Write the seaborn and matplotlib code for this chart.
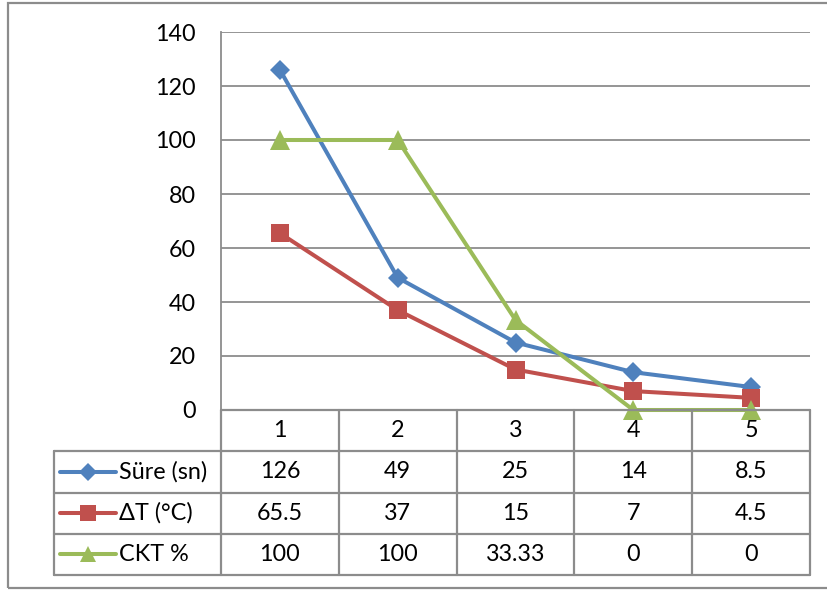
import matplotlib
matplotlib.use("Agg")
import matplotlib.pyplot as plt
from matplotlib.lines import Line2D
from matplotlib.patches import Rectangle
import seaborn as sns
import pandas as pd

categories = [1, 2, 3, 4, 5]
series_names = ["Süre (sn)", "ΔT (°C)", "CKT %"]
sure = [126, 49, 25, 14, 8.5]
delta_t = [65.5, 37, 15, 7, 4.5]
ckt = [100, 100, 33.33, 0, 0]
table_text = [
    ["126", "49", "25", "14", "8.5"],
    ["65.5", "37", "15", "7", "4.5"],
    ["100", "100", "33.33", "0", "0"],
]
y_ticks = [0, 20, 40, 60, 80, 100, 120, 140]

colors = ["#4F81BD", "#C0504D", "#9BBB59"]
markers = ["D", "s", "^"]
msizes = [10, 13, 14]
values = [sure, delta_t, ckt]

sns.set_theme(style="white")
plt.rcParams["font.family"] = ["Lato", "DejaVu Sans"]
FS = 16.8
GRID = "#8C8C8C"

W, H = 828, 590
fig = plt.figure(figsize=(W / 100, H / 100), dpi=100)

def px_axes(x0, y0, x1, y1):
    return fig.add_axes([x0 / W, 1 - y1 / H, (x1 - x0) / W, (y1 - y0) / H])

# outer chart border
fig.add_artist(Rectangle((8 / W, 1 - 588 / H), (W + 10 - 8) / W, (588 - 3) / H,
                         transform=fig.transFigure, fill=False,
                         edgecolor=GRID, linewidth=1.6, clip_on=False))

# ---- plot area ----
ax = px_axes(221, 32, 810, 410)
df = pd.DataFrame({
    "x": categories * 3,
    "y": sure + delta_t + ckt,
    "series": sum([[n] * len(categories) for n in series_names], []),
})
for name, c, m, ms in zip(series_names, colors, markers, msizes):
    sub = df[df["series"] == name]
    sns.lineplot(data=sub, x="x", y="y", ax=ax, color=c, marker=m,
                 markersize=ms, markeredgewidth=0, linewidth=2.9,
                 legend=False, clip_on=False, zorder=3)
ax.set_xlim(0.5, 5.5)
ax.set_ylim(0, 140)
ax.set_yticks(y_ticks)
ax.set_yticklabels([str(v) for v in y_ticks], fontsize=FS, color="black")
ax.tick_params(axis="y", length=0, pad=18)
ax.set_xticks([])
ax.set_xlabel("")
ax.set_ylabel("")
ax.grid(axis="y", color=GRID, linewidth=1.3)
ax.set_axisbelow(True)
for s in ["top", "right", "bottom"]:
    ax.spines[s].set_visible(False)
ax.spines["left"].set_color(GRID)
ax.spines["left"].set_linewidth(1.3)
ax.set_facecolor("none")

# ---- data table ----
colw = (810 - 221) / 5
left = 0.5 - (221 - 54) / colw
tax = px_axes(54, 410, 810, 575)
tax.set_xlim(left, 5.5)
tax.set_ylim(4, 0)
tax.axis("off")
tax.patch.set_alpha(0)
lw = 1.6
# horizontal lines
tax.plot([0.5, 5.5], [0, 0], color=GRID, lw=lw, clip_on=False)
for r in [1, 2, 3, 4]:
    tax.plot([left, 5.5], [r, r], color=GRID, lw=lw, clip_on=False)
# vertical lines
tax.plot([left, left], [1, 4], color=GRID, lw=lw, clip_on=False)
for i in range(6):
    tax.plot([0.5 + i, 0.5 + i], [0, 4], color=GRID, lw=lw, clip_on=False)
# header
for i, c in enumerate(categories):
    tax.text(c, 0.5, str(c), ha="center", va="center", fontsize=FS, color="black")
# rows
for r, (name, col, m, row) in enumerate(zip(series_names, colors, markers, table_text)):
    y = r + 1.5
    for i, t in enumerate(row):
        tax.text(categories[i], y, t, ha="center", va="center", fontsize=FS, color="black")
    kx0 = left + 6 / colw
    kx1 = left + 62 / colw
    tax.add_line(Line2D([kx0, kx1], [y, y], color=col, lw=2.9,
                        solid_capstyle="round", clip_on=False))
    tax.add_line(Line2D([(kx0 + kx1) / 2], [y], color=col, marker=m,
                        markersize=[9, 11, 12][r], markeredgewidth=0,
                        linestyle="none", clip_on=False))
    tax.text(left + 65 / colw, y, name, ha="left", va="center", fontsize=FS, color="black")

fig.savefig("out.png", dpi=100)
